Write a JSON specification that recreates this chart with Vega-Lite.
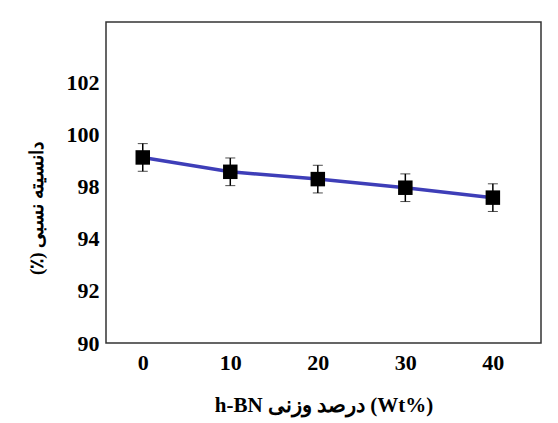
{
  "$schema": "https://vega.github.io/schema/vega-lite/v6.json",
  "autosize": {"type": "none"},
  "padding": {"left": 106, "top": 22, "right": 17, "bottom": 80},
  "width": 435,
  "height": 321,
  "background": "white",
  "data": {"values": [
    {"wt": 0, "density": 97.11, "lo": 96.58, "hi": 97.64},
    {"wt": 10, "density": 96.56, "lo": 96.03, "hi": 97.09},
    {"wt": 20, "density": 96.28, "lo": 95.75, "hi": 96.81},
    {"wt": 30, "density": 95.95, "lo": 95.42, "hi": 96.48},
    {"wt": 40, "density": 95.57, "lo": 95.04, "hi": 96.1}
  ]},
  "encoding": {
    "x": {"field": "wt", "type": "quantitative",
      "scale": {"domain": [-4.2, 45.5], "nice": false, "zero": false},
      "axis": {"values": [0, 10, 20, 30, 40], "title": "h-BN درصد وزنی (Wt%)", "grid": false, "ticks": false, "domain": false,
        "labelFont": "Liberation Serif", "labelFontWeight": "bold", "labelFontSize": 22, "labelColor": "black", "labelPadding": 9, "labelDx": 6,
        "titleFont": "Liberation Serif", "titleFontWeight": "bold", "titleFontSize": 21, "titleColor": "black", "titlePadding": 21}}
  },
  "layer": [
    {
      "mark": {"type": "errorbar", "ticks": {"size": 10, "color": "black", "strokeWidth": 1.5}, "rule": {"color": "black", "strokeWidth": 1.5}},
      "encoding": {
        "y": {"field": "lo", "type": "quantitative",
          "scale": {"domain": [90, 102.3], "nice": false, "zero": false},
          "axis": {"values": [90, 92, 94, 96, 98, 100], "grid": false, "ticks": false, "domain": false,
            "labelExpr": "datum.value == 96 ? '98' : datum.value == 98 ? '100' : datum.value == 100 ? '102' : datum.label",
            "labelFont": "Liberation Serif", "labelFontWeight": "bold", "labelFontSize": 22, "labelColor": "black", "labelPadding": 7, "labelBaseline": "middle", "labelDy": -3,
            "title": "(٪) دانسیته نسبی", "titleFont": "Liberation Serif", "titleFontWeight": "bold", "titleFontSize": 19, "titleColor": "black", "titlePadding": 20, "titleY": 186}},
        "y2": {"field": "hi"}
      }
    },
    {
      "mark": {"type": "line", "color": "#3e3eb8", "strokeWidth": 3.5},
      "encoding": {"y": {"field": "density", "type": "quantitative"}}
    },
    {
      "mark": {"type": "point", "shape": "square", "filled": true, "color": "black", "size": 210, "opacity": 1},
      "encoding": {"y": {"field": "density", "type": "quantitative"}}
    }
  ],
  "config": {
    "view": {"stroke": "#333333", "strokeWidth": 1.5}
  }
}
